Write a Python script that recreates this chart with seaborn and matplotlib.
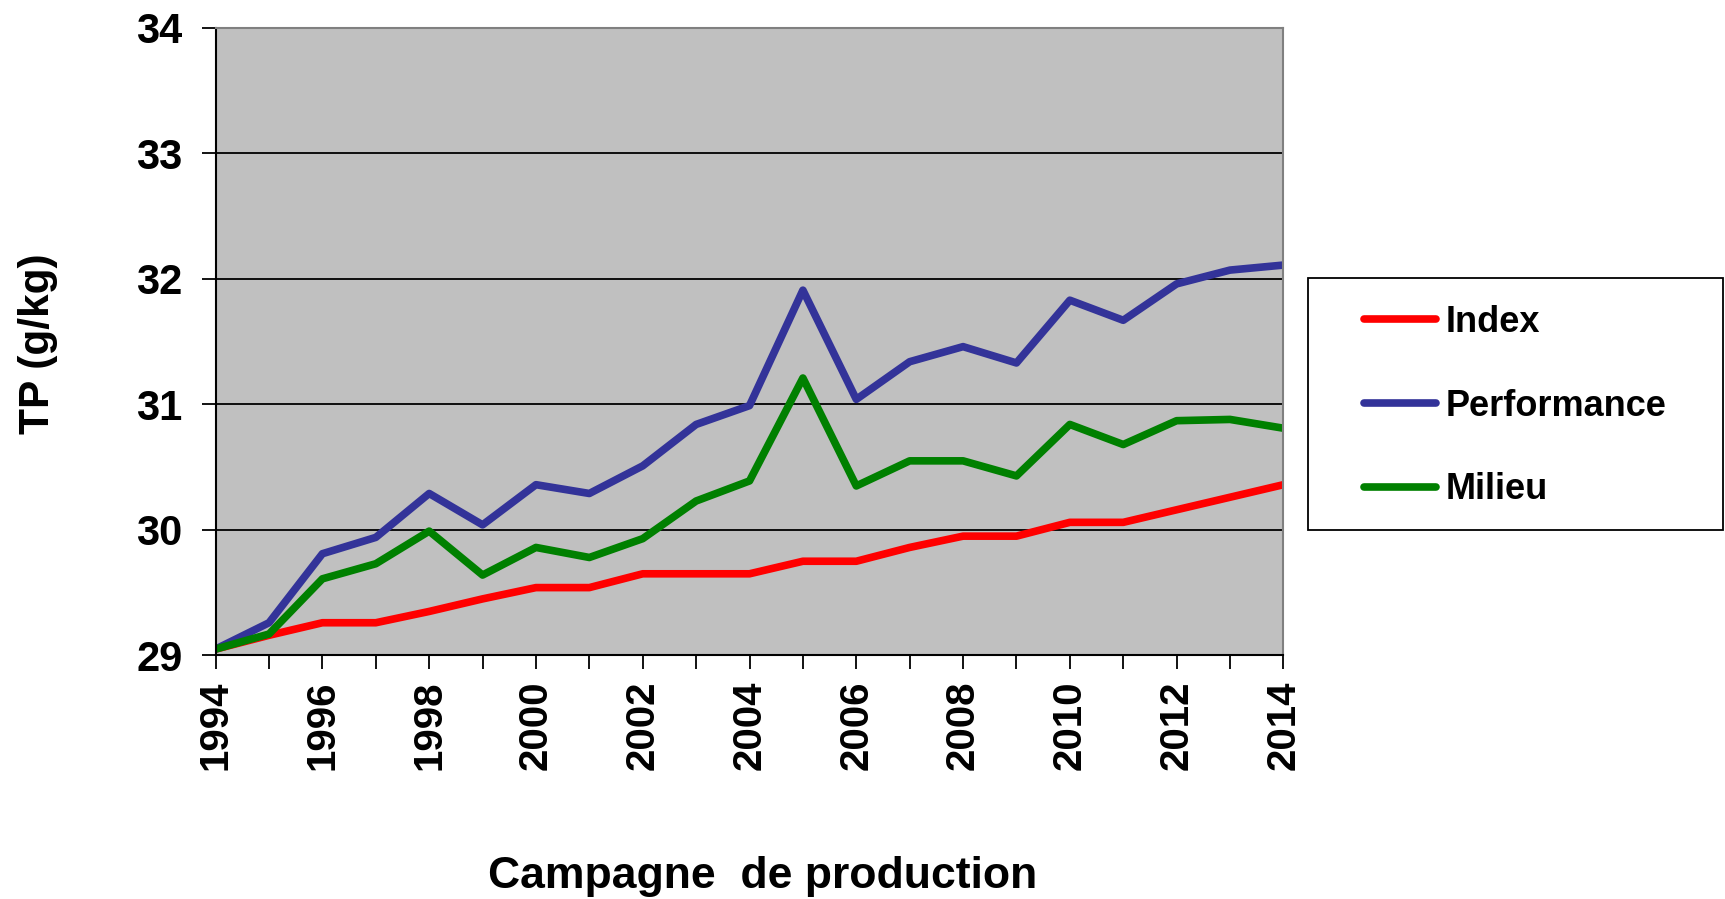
import matplotlib
matplotlib.use("Agg")
import matplotlib.pyplot as plt
import seaborn as sns
import pandas as pd
from matplotlib.ticker import MultipleLocator
from matplotlib.patches import Rectangle

# Values
years = list(range(1994, 2015))
index_vals = [29.05, 29.16, 29.26, 29.26, 29.35, 29.45, 29.54, 29.54, 29.65, 29.65, 29.65,
              29.75, 29.75, 29.86, 29.95, 29.95, 30.06, 30.06, 30.16, 30.26, 30.36]
performance_vals = [29.05, 29.26, 29.81, 29.94, 30.29, 30.04, 30.36, 30.29, 30.51, 30.84, 30.99,
                    31.91, 31.04, 31.34, 31.46, 31.33, 31.83, 31.67, 31.96, 32.07, 32.11]
milieu_vals = [29.05, 29.17, 29.61, 29.73, 29.99, 29.64, 29.86, 29.78, 29.93, 30.23, 30.39,
               31.21, 30.35, 30.55, 30.55, 30.43, 30.84, 30.68, 30.87, 30.88, 30.81]
series_names = ["Index", "Performance", "Milieu"]
colors = ["#FF0000", "#333399", "#008000"]

df = pd.concat([
    pd.DataFrame({"year": years, "TP": vals, "serie": name})
    for name, vals in zip(series_names, [index_vals, performance_vals, milieu_vals])
])

sns.set_style("white")
plt.rcParams["font.family"] = ["Liberation Sans", "DejaVu Sans"]
plt.rcParams["font.weight"] = "bold"
plt.rcParams["text.color"] = "black"
plt.rcParams["axes.labelcolor"] = "black"
plt.rcParams["xtick.color"] = "black"
plt.rcParams["ytick.color"] = "black"

fig = plt.figure(figsize=(17.25, 8.99), dpi=100)
ax = fig.add_axes([0.125, 0.271, 0.619, 0.698])
ax.set_facecolor("#C0C0C0")

sns.lineplot(data=df, x="year", y="TP", hue="serie", hue_order=series_names,
             palette=colors, linewidth=5.5, ax=ax, legend=False)

ax.set_xlim(1994, 2014)
ax.set_ylim(29, 34)
ax.xaxis.set_major_locator(MultipleLocator(2))
ax.xaxis.set_minor_locator(MultipleLocator(1))
ax.yaxis.set_major_locator(MultipleLocator(1))
ax.grid(axis="y", color="black", linewidth=1.3)
ax.set_axisbelow(True)

ax.tick_params(axis="x", which="both", direction="out", length=10, width=1.3, color="black",
               bottom=True, labelsize=29, pad=8)
ax.tick_params(axis="x", which="major", labelrotation=90)
ax.tick_params(axis="y", direction="out", length=10, width=1.3, color="black", left=True,
               labelsize=30, pad=14)

for side in ["left", "bottom"]:
    ax.spines[side].set_color("black")
    ax.spines[side].set_linewidth(1.5)
for side in ["top", "right"]:
    ax.spines[side].set_color("#808080")
    ax.spines[side].set_linewidth(1.5)

ax.set_xlabel("Campagne  de production", fontsize=32, fontweight="bold")
ax.set_ylabel("TP (g/kg)", fontsize=30.5, fontweight="bold")
ax.xaxis.set_label_coords(0.512, -0.320)
ax.yaxis.set_label_coords(-0.148, 0.496)

# legend frame drawn separately, entries placed inside it
fig.patches.append(Rectangle((0.758, 0.410), 0.241, 0.281, transform=fig.transFigure,
                             facecolor="white", edgecolor="black", linewidth=1.3))
handles = [plt.Line2D([], [], color=c, linewidth=5.5, solid_capstyle="round") for c in colors]
leg = fig.legend(handles, series_names, loc="upper left", bbox_to_anchor=(0.7907, 0.661),
                 fontsize=26, frameon=False, handlelength=2.0, handletextpad=0.25,
                 labelspacing=1.35, borderpad=0, borderaxespad=0)
for t in leg.get_texts():
    t.set_fontweight("bold")

fig.savefig("out.png", dpi=100, facecolor="white")
